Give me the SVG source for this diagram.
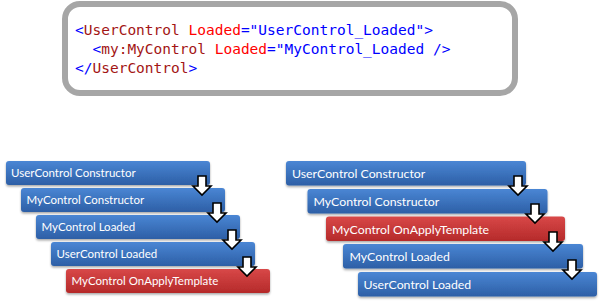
<svg xmlns="http://www.w3.org/2000/svg" width="600" height="304" viewBox="0 0 600 304">
<defs>
<linearGradient id="gb" x1="0" y1="0" x2="0" y2="1">
<stop offset="0" stop-color="#4a86d4"/>
<stop offset="1" stop-color="#2d5fa6"/>
</linearGradient>
<linearGradient id="gr" x1="0" y1="0" x2="0" y2="1">
<stop offset="0" stop-color="#d84848"/>
<stop offset="1" stop-color="#b52a2a"/>
</linearGradient>
<filter id="sh" x="-5%" y="-20%" width="110%" height="150%">
<feDropShadow dx="0" dy="1.5" stdDeviation="1.2" flood-color="#000" flood-opacity="0.35"/>
</filter>
<polygon id="arr" points="-4,0 4,0 4,10 9,10 0,19 -9,10 -4,10" fill="#fff" stroke="#000" stroke-width="1.6" stroke-linejoin="miter"/>
<style>
.code{font-family:"DejaVu Sans Mono","Liberation Mono",monospace;font-size:14.5px}
.b{fill:#0000ff}.e{fill:#a31515}.a{fill:#ff0000}
.blue{fill:url(#gb);filter:url(#sh)}
.red{fill:url(#gr);filter:url(#sh)}
.t{font-family:Lato,"Open Sans",sans-serif;fill:#fff}
.tl{font-size:11.5px}.tr{font-size:12.3px}
</style>
</defs>
<g id="code">
<rect x="65" y="4" width="450" height="89" rx="15" fill="#fff" stroke="#a6a6a6" stroke-width="6"/>
<text class="code" x="75" y="35" xml:space="preserve"><tspan class="b">&lt;</tspan><tspan class="e">UserControl</tspan> <tspan class="a">Loaded</tspan><tspan class="b">="UserControl_Loaded"&gt;</tspan></text>
<text class="code" x="75" y="54" xml:space="preserve">  <tspan class="b">&lt;</tspan><tspan class="e">my:MyControl</tspan> <tspan class="a">Loaded</tspan><tspan class="b">="MyControl_Loaded /&gt;</tspan></text>
<text class="code" x="75" y="73" xml:space="preserve"><tspan class="b">&lt;/</tspan><tspan class="e">UserControl</tspan><tspan class="b">&gt;</tspan></text>
</g>
<g id="left-usercontrol-constructor"><rect class="blue" x="6" y="161" width="204" height="24" rx="3"/><text class="t tl" x="11" y="177">UserControl Constructor</text></g>
<g id="left-mycontrol-constructor"><rect class="blue" x="21" y="188" width="204" height="24" rx="3"/><text class="t tl" x="26.5" y="204">MyControl Constructor</text></g>
<g id="left-mycontrol-loaded"><rect class="blue" x="36" y="215" width="204" height="24" rx="3"/><text class="t tl" x="41.5" y="231">MyControl Loaded</text></g>
<g id="left-usercontrol-loaded"><rect class="blue" x="51" y="242" width="204" height="24" rx="3"/><text class="t tl" x="56.5" y="258">UserControl Loaded</text></g>
<g id="left-mycontrol-onapplytemplate"><rect class="red" x="66" y="269" width="204" height="24" rx="3"/><text class="t tl" x="71.5" y="285">MyControl OnApplyTemplate</text></g>
<g id="right-usercontrol-constructor"><rect class="blue" x="286" y="161" width="240" height="24.5" rx="3"/><text class="t tr" x="292" y="178">UserControl Constructor</text></g>
<g id="right-mycontrol-constructor"><rect class="blue" x="307.5" y="189" width="240" height="24.5" rx="3"/><text class="t tr" x="313.5" y="206">MyControl Constructor</text></g>
<g id="right-mycontrol-onapplytemplate"><rect class="red" x="326" y="216.5" width="239" height="24.5" rx="3"/><text class="t tr" x="332" y="233.5">MyControl OnApplyTemplate</text></g>
<g id="right-mycontrol-loaded"><rect class="blue" x="343" y="244" width="240" height="24.5" rx="3"/><text class="t tr" x="349.5" y="261">MyControl Loaded</text></g>
<g id="right-usercontrol-loaded"><rect class="blue" x="358" y="272" width="239" height="24.5" rx="3"/><text class="t tr" x="363.5" y="289">UserControl Loaded</text></g>
<g id="connectors">
<use href="#arr" x="202" y="176"/>
<use href="#arr" x="217" y="203"/>
<use href="#arr" x="232" y="230"/>
<use href="#arr" x="247" y="257"/>
<use href="#arr" x="518" y="176"/>
<use href="#arr" x="535" y="204"/>
<use href="#arr" x="553" y="232"/>
<use href="#arr" x="572" y="260"/>
</g>
</svg>
